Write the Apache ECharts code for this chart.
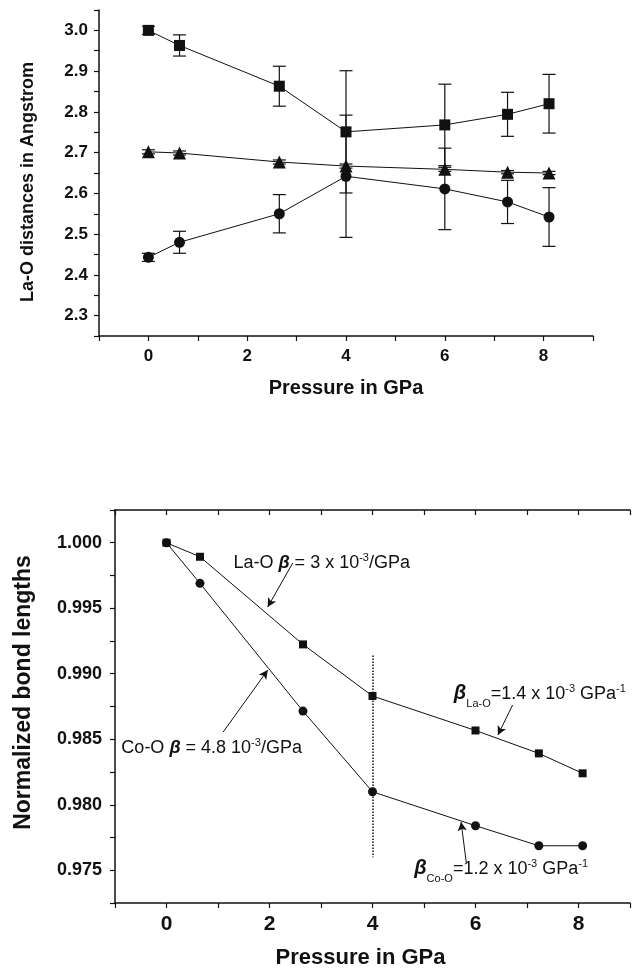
<!DOCTYPE html>
<html>
<head>
<meta charset="utf-8">
<script src="https://cdn.jsdelivr.net/npm/echarts@6/dist/echarts.min.js"></script>
<style>
  html, body { margin: 0; padding: 0; background: #fff; }
  #chart { width: 633px; height: 975px; }
</style>
</head>
<body>
<div id="chart"></div>
<script>
// top panel: La-O distances
const xTop = [0, 0.63, 2.65, 4, 6, 7.27, 8.11]
const laoLong = [3.000, 2.963, 2.863, 2.751, 2.768, 2.794, 2.820]
const laoLongErr = [0.010, 0.026, 0.049, 0.150, 0.100, 0.054, 0.072]
const laoMid = [2.702, 2.699, 2.677, 2.667, 2.659, 2.652, 2.650]
const laoMidErr = [0.005, 0.005, 0.005, 0.005, 0.005, 0.004, 0.004]
const laoShort = [2.443, 2.480, 2.550, 2.642, 2.611, 2.579, 2.542]
const laoShortErr = [0.010, 0.027, 0.047, 0.150, 0.100, 0.053, 0.072]

// bottom panel: normalized bond lengths
const xBottom = [0, 0.65, 2.65, 4, 6, 7.23, 8.08]
const normLaO = [1.000, 0.99893, 0.99224, 0.9883, 0.98567, 0.98392, 0.98240]
const normCoO = [1.000, 0.9969, 0.98715, 0.98099, 0.97840, 0.97687, 0.97687]

const xTickLabels = ['0', '2', '4', '6', '8']

const black = '#111'
const sans = '"Liberation Sans", Arial, sans-serif'

const chart = echarts.init(document.getElementById('chart'))

function pairs(xs, ys) {
  return xs.map((x, i) => [x, ys[i]])
}

function errData(xs, ys, es) {
  return xs.map((x, i) => [x, ys[i], es[i]])
}

function renderErr(params, api) {
  const x = api.value(0)
  const y = api.value(1)
  const e = api.value(2)
  const hi = api.coord([x, y + e])
  const lo = api.coord([x, y - e])
  const w = 6.5
  const style = { stroke: black, lineWidth: 1.2 }
  return {
    type: 'group',
    children: [
      { type: 'line', shape: { x1: hi[0], y1: hi[1], x2: lo[0], y2: lo[1] }, style },
      { type: 'line', shape: { x1: hi[0] - w, y1: hi[1], x2: hi[0] + w, y2: hi[1] }, style },
      { type: 'line', shape: { x1: lo[0] - w, y1: lo[1], x2: lo[0] + w, y2: lo[1] }, style }
    ]
  }
}

function xLabel(v) {
  const s = String(Math.round(v))
  return xTickLabels.includes(s) && Math.abs(v - Math.round(v)) < 1e-6 ? s : ''
}

const axisLine = { show: true, onZero: false, lineStyle: { color: black, width: 1.5 } }

const rich = {
  t: { fontFamily: sans, fontSize: 18, color: black, verticalAlign: 'bottom', lineHeight: 20 },
  g: { fontFamily: sans, fontSize: 18, color: black, fontStyle: 'italic', fontWeight: 'bold', verticalAlign: 'bottom', lineHeight: 20 },
  gb: { fontFamily: sans, fontSize: 20, color: black, fontStyle: 'italic', fontWeight: 'bold', verticalAlign: 'bottom', lineHeight: 20 },
  sup: { fontFamily: sans, fontSize: 11, color: black, verticalAlign: 'top', lineHeight: 20 },
  sub: { fontFamily: sans, fontSize: 11, color: black, verticalAlign: 'bottom', lineHeight: 14, padding: [0, 0, -6, 0] }
}

function note(coord, text) {
  return {
    coord,
    symbol: 'circle',
    symbolSize: 1,
    itemStyle: { color: 'rgba(0,0,0,0)' },
    label: { show: true, position: 'right', distance: 0, formatter: text, rich }
  }
}

function arrow(from, to) {
  return [{ coord: from }, { coord: to }]
}

const option = {
  animation: false,
  backgroundColor: '#fff',
  grid: [
    { left: 99, right: 40, top: 10, bottom: 639 },
    { left: 115, right: 1, top: 510, bottom: 72 }
  ],
  xAxis: [
    {
      gridIndex: 0, type: 'value', min: -1, max: 9, interval: 1,
      axisLine, splitLine: { show: false },
      axisTick: { show: true, length: 5, lineStyle: { color: black, width: 1.2 } },
      axisLabel: { formatter: xLabel, margin: 12, fontFamily: sans, fontWeight: 'bold', fontSize: 17, color: black },
      name: 'Pressure in GPa', nameLocation: 'middle', nameGap: 42,
      nameTextStyle: { fontFamily: sans, fontWeight: 'bold', fontSize: 20, color: black }
    },
    {
      gridIndex: 1, type: 'value', min: -1, max: 9, interval: 1,
      axisLine, splitLine: { show: false },
      axisTick: { show: true, length: 5, lineStyle: { color: black, width: 1.2 } },
      axisLabel: { formatter: xLabel, margin: 11, fontFamily: sans, fontWeight: 'bold', fontSize: 21, color: black },
      name: 'Pressure in GPa', nameLocation: 'middle', nameGap: 44,
      nameTextStyle: { fontFamily: sans, fontWeight: 'bold', fontSize: 22, color: black, padding: [0, 24, 0, 0] }
    },
    {
      gridIndex: 1, type: 'value', position: 'top', min: -1, max: 9, interval: 1,
      axisLine, splitLine: { show: false },
      axisTick: { show: true, inside: true, length: 5, lineStyle: { color: black, width: 1.2 } },
      axisLabel: { show: false }
    }
  ],
  yAxis: [
    {
      gridIndex: 0, type: 'value', min: 2.25, max: 3.05, interval: 0.05,
      axisLine, splitLine: { show: false },
      axisTick: { show: true, length: 5, lineStyle: { color: black, width: 1.2 } },
      axisLabel: {
        margin: 11, fontFamily: sans, fontWeight: 'bold', fontSize: 17, color: black,
        formatter: (v) => (Math.abs(v * 10 - Math.round(v * 10)) < 1e-6 && v < 3.02 && v > 2.27 ? v.toFixed(1) : '')
      },
      name: 'La-O distances in Angstrom', nameLocation: 'middle', nameGap: 62, nameRotate: 90,
      nameTextStyle: { fontFamily: sans, fontWeight: 'bold', fontSize: 18, color: black, padding: [0, 18, 0, 0] }
    },
    {
      gridIndex: 1, type: 'value', min: 0.9725, max: 1.0025, interval: 0.0025,
      axisLine, splitLine: { show: false },
      axisTick: { show: true, length: 5, lineStyle: { color: black, width: 1.2 } },
      axisLabel: {
        margin: 13, fontFamily: sans, fontWeight: 'bold', fontSize: 18, color: black,
        formatter: (v) => {
          const k = v / 0.005
          return Math.abs(k - Math.round(k)) < 1e-6 && v < 1.001 && v > 0.974 ? v.toFixed(3) : ''
        }
      },
      name: 'Normalized bond lengths', nameLocation: 'middle', nameGap: 80, nameRotate: 90,
      nameTextStyle: { fontFamily: sans, fontWeight: 'bold', fontSize: 23, color: black, padding: [0, 0, 0, 28] }
    }
  ],
  series: [
    { type: 'custom', xAxisIndex: 0, yAxisIndex: 0, renderItem: renderErr, data: errData(xTop, laoLong, laoLongErr), z: 1 },
    { type: 'custom', xAxisIndex: 0, yAxisIndex: 0, renderItem: renderErr, data: errData(xTop, laoMid, laoMidErr), z: 1 },
    { type: 'custom', xAxisIndex: 0, yAxisIndex: 0, renderItem: renderErr, data: errData(xTop, laoShort, laoShortErr), z: 1 },
    {
      type: 'line', xAxisIndex: 0, yAxisIndex: 0, data: pairs(xTop, laoLong),
      symbol: 'rect', symbolSize: 11, itemStyle: { color: black }, lineStyle: { color: black, width: 1 }, z: 3
    },
    {
      type: 'line', xAxisIndex: 0, yAxisIndex: 0, data: pairs(xTop, laoMid),
      symbol: 'triangle', symbolSize: 13, itemStyle: { color: black }, lineStyle: { color: black, width: 1 }, z: 3
    },
    {
      type: 'line', xAxisIndex: 0, yAxisIndex: 0, data: pairs(xTop, laoShort),
      symbol: 'circle', symbolSize: 11, itemStyle: { color: black }, lineStyle: { color: black, width: 1 }, z: 3
    },
    {
      type: 'line', xAxisIndex: 1, yAxisIndex: 1, data: pairs(xBottom, normLaO),
      symbol: 'rect', symbolSize: 8, itemStyle: { color: black }, lineStyle: { color: black, width: 1 }, z: 3,
      markLine: {
        silent: true, symbol: ['none', 'arrow'], symbolSize: [7, 9],
        lineStyle: { color: black, width: 1, type: 'solid' }, label: { show: false },
        data: [
          arrow([2.45, 0.99845], [1.965, 0.99509]),
          arrow([6.72, 0.98761], [6.435, 0.98532])
        ]
      },
      markPoint: {
        silent: true,
        data: [
          note([1.29, 0.99853], '{t|La-O }{g|β}{t| = 3 x 10}{sup|-3}{t|/GPa}'),
          note([5.57, 0.98853], '{gb|β}{sub|La-O}{t|=1.4 x 10}{sup|-3}{t| GPa}{sup|-1}')
        ]
      }
    },
    {
      type: 'line', xAxisIndex: 1, yAxisIndex: 1, data: pairs(xBottom, normCoO),
      symbol: 'circle', symbolSize: 9, itemStyle: { color: black }, lineStyle: { color: black, width: 1 }, z: 3,
      markLine: {
        silent: true, symbol: ['none', 'arrow'], symbolSize: [7, 9],
        lineStyle: { color: black, width: 1, type: 'solid' }, label: { show: false },
        data: [
          arrow([1.10, 0.98555], [1.965, 0.99028]),
          arrow([5.82, 0.97562], [5.72, 0.97868]),
          [
            { coord: [4, 0.9914], symbol: 'none', lineStyle: { type: 'dotted', width: 1.5 } },
            { coord: [4, 0.9760], symbol: 'none' }
          ]
        ]
      },
      markPoint: {
        silent: true,
        data: [
          note([-0.886, 0.9844], '{t|Co-O }{g|β}{t| = 4.8 10}{sup|-3}{t|/GPa}'),
          note([4.80, 0.97517], '{gb|β}{sub|Co-O}{t|=1.2 x 10}{sup|-3}{t| GPa}{sup|-1}')
        ]
      }
    }
  ]
}

chart.setOption(option)
</script>
</body>
</html>
